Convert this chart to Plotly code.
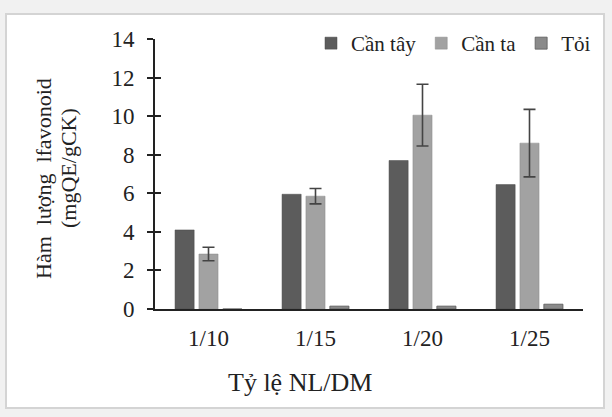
import plotly.graph_objects as go

categories = ["1/10", "1/15", "1/20", "1/25"]
can_tay = [4.1, 5.95, 7.7, 6.45]
can_ta = [2.85, 5.85, 10.05, 8.6]
can_ta_err = [0.35, 0.4, 1.6, 1.75]
toi = [0.0, 0.15, 0.15, 0.25]
y_ticks = [0, 2, 4, 6, 8, 10, 12, 14]

FONT = "Liberation Serif, Times New Roman, DejaVu Serif, serif"
INK = "#222222"

# plot area in pixels (for placing annotations / frame in paper units)
L, R, T, B = 155, 583, 39, 309
W, H = R - L, B - T


def px(x):
    return (x - L) / W


def py(y):
    return (B - y) / H


fig = go.Figure()
fig.add_trace(go.Bar(name="Cần tây", x=categories, y=can_tay,
                     marker=dict(color="#5c5c5c", line=dict(color="#4a4a4a", width=0.5))))
fig.add_trace(go.Bar(name="Cần ta", x=categories, y=can_ta,
                     marker=dict(color="#a2a2a2", line=dict(color="#8a8a8a", width=0.5)),
                     error_y=dict(type="data", array=can_ta_err, color="#444444",
                                  thickness=1.6, width=6)))
fig.add_trace(go.Bar(name="Tỏi", x=categories, y=toi,
                     marker=dict(color="#8a8a8a", line=dict(color="#5a5a5a", width=0.8))))

# invisible trace on overlaid axis for the inside half of the ticks
fig.add_trace(go.Scatter(x=categories, y=can_tay, yaxis="y2", mode="markers",
                         marker=dict(opacity=0), showlegend=False, hoverinfo="skip"))

fig.update_layout(
    width=612, height=417,
    margin=dict(l=L, r=612 - R, t=T, b=417 - B, autoexpand=False),
    paper_bgcolor="#f1f1f1",
    plot_bgcolor="rgba(0,0,0,0)",
    barmode="group", bargap=0.33, bargroupgap=0.2,
    font=dict(family=FONT, size=22, color=INK),
    showlegend=True,
    legend=dict(orientation="h", x=px(596), xanchor="right", y=py(23), yanchor="top",
                font=dict(family=FONT, size=21, color=INK),
                bgcolor="rgba(0,0,0,0)", itemwidth=30, traceorder="normal"),
    xaxis=dict(showline=True, linecolor=INK, linewidth=2, ticks="",
               tickfont=dict(family=FONT, size=23, color=INK), showgrid=False,
               zeroline=False, ticklabelstandoff=7),
    yaxis=dict(range=[0, 14], tickvals=y_ticks, showline=True, linecolor=INK,
               linewidth=2, ticks="outside", ticklen=6, tickwidth=1.5, tickcolor=INK,
               tickfont=dict(family=FONT, size=23, color=INK), showgrid=False,
               zeroline=False, ticklabelstandoff=8),
    yaxis2=dict(range=[0, 14], tickvals=y_ticks, overlaying="y", side="left",
                ticks="inside", ticklen=6, tickwidth=1.5, tickcolor=INK,
                showticklabels=False, showgrid=False, zeroline=False, showline=False),
    shapes=[dict(type="rect", xref="paper", yref="paper",
                 x0=px(6), x1=px(604), y0=py(408), y1=py(14),
                 fillcolor="white", line=dict(color="#d4d4d4", width=2), layer="below")],
    annotations=[
        dict(text="Hàm  lượng  lfavonoid", textangle=-90, xref="paper", yref="paper",
             x=px(43), y=py(179), xanchor="center", yanchor="middle", showarrow=False,
             font=dict(family=FONT, size=22, color=INK)),
        dict(text="(mgQE/gCK)", textangle=-90, xref="paper", yref="paper",
             x=px(68), y=py(168), xanchor="center", yanchor="middle", showarrow=False,
             font=dict(family=FONT, size=22, color=INK)),
        dict(text="Tỷ lệ NL/DM", xref="paper", yref="paper",
             x=px(300), y=py(382), xanchor="center", yanchor="middle", showarrow=False,
             font=dict(family=FONT, size=26, color=INK)),
    ],
)

fig.write_html("out.html", config={"displayModeBar": False},
               post_script="document.body.style.margin='0';")
